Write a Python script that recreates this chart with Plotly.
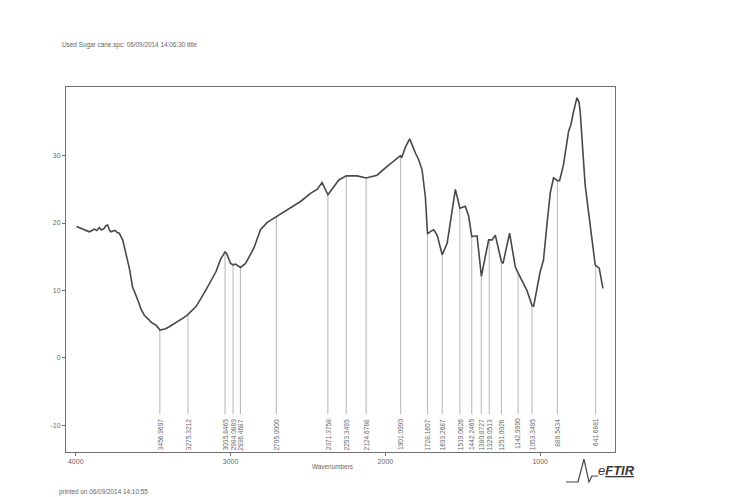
import numpy as np
import plotly.graph_objects as go

# ---- spectrum (wavenumber cm-1, %T-like units) ----
wavenumber = [3995, 3975, 3960, 3940, 3913, 3895, 3880, 3865, 3848, 3835, 3820, 3806, 3794, 3783,
              3772, 3758, 3745, 3732, 3719, 3697, 3675, 3654, 3633, 3615, 3600, 3578, 3557, 3530,
              3514, 3495, 3480, 3456, 3439, 3420, 3396, 3360, 3331, 3300, 3277, 3223, 3158, 3094,
              3065, 3036, 3026, 3000, 2984, 2968, 2936, 2903, 2849, 2807, 2763, 2721, 2634, 2548,
              2484, 2441, 2409, 2394, 2371, 2333, 2301, 2253, 2183, 2124, 2054, 1989, 1925, 1903,
              1895, 1870, 1843, 1820, 1806, 1785, 1763, 1742, 1728, 1705, 1688, 1666, 1633, 1601,
              1548, 1519, 1484, 1462, 1442, 1408, 1380, 1355, 1333, 1311, 1290, 1251, 1240, 1198,
              1161, 1143, 1110, 1086, 1053, 1043, 1000, 979, 957, 935, 914, 889, 875, 850, 817,
              802, 785, 763, 750, 742, 710, 677, 645, 630, 619, 595]
transmittance = [19.5, 19.3, 19.2, 18.9, 18.7, 18.9, 19.1, 18.9, 19.3, 19.0, 19.1, 19.6, 19.7, 19.0,
                 18.7, 18.8, 18.9, 18.6, 18.5, 17.5, 15.5, 13.3, 10.5, 9.3, 8.6, 7.2, 6.3, 5.7,
                 5.3, 5.0, 4.8, 4.1, 4.2, 4.3, 4.6, 5.1, 5.6, 6.0, 6.4, 7.6, 10.1, 12.8,
                 14.6, 15.7, 15.5, 14.0, 13.8, 13.9, 13.4, 14.0, 16.3, 19.0, 20.1, 20.7, 21.9, 23.2,
                 24.4, 25.0, 26.0, 25.3, 24.2, 25.4, 26.4, 27.0, 27.0, 26.7, 27.1, 28.4, 29.5, 30.0,
                 29.7, 31.3, 32.5, 31.0, 30.4, 29.4, 27.9, 23.9, 18.4, 18.8, 19.0, 18.2, 15.3, 17.0,
                 25.0, 22.2, 22.5, 21.0, 18.0, 18.1, 12.1, 15.0, 17.5, 17.5, 18.2, 14.3, 14.0, 18.5,
                 13.5, 12.6, 11.2, 10.0, 7.8, 7.6, 12.8, 14.5, 19.7, 24.5, 26.7, 26.3, 26.3, 28.6, 33.6,
                 34.6, 36.5, 38.6, 38.0, 36.6, 25.7, 19.2, 13.8, 13.5, 13.3, 10.3]

peak_labels = ["3456.9697", "3275.3212", "3035.8465", "2984.0889", "2936.4687", "2705.0000",
               "2371.3758", "2253.3495", "2124.6788", "1901.0990", "1728.1607", "1633.2687",
               "1519.0626", "1442.2465", "1380.8727", "1329.0513", "1251.0026", "1142.9990",
               "1053.3495", "889.5434", "641.6881"]

x_ticks = [4000, 3000, 2000, 1000]
y_ticks = [-10, 0, 10, 20, 30]

title_text = "Used Sugar cane.spc: 06/09/2014 14:06:30 title"
printed_text = "printed on 06/09/2014 14:10:55"
x_title = "Wavenumbers"

FONT = "Liberation Sans, Arial, sans-serif"
TXT = "#666666"

fig = go.Figure()

# peak marker lines (from the curve down to the labels)
peak_pos = [float(s) for s in peak_labels]
wn_sorted = np.array(wavenumber[::-1], dtype=float)
tr_sorted = np.array(transmittance[::-1], dtype=float)
line_bottom = -8.4
lx, ly = [], []
for p in peak_pos:
    top = float(np.interp(p, wn_sorted, tr_sorted))
    lx += [p, p, None]
    ly += [top, line_bottom, None]
fig.add_trace(go.Scatter(x=lx, y=ly, mode="lines",
                         line=dict(color="#a0a0b0", width=0.8),
                         hoverinfo="skip", showlegend=False))

# spectrum
fig.add_trace(go.Scatter(x=wavenumber, y=transmittance, mode="lines",
                         line=dict(color="#484848", width=1.6),
                         showlegend=False))

annotations = []
for s, p in zip(peak_labels, peak_pos):
    annotations.append(dict(x=p, y=line_bottom - 0.3, xref="x", yref="y", text=s,
                            textangle=-90, showarrow=False, yanchor="top", xanchor="center",
                            font=dict(family=FONT, size=6.6, color=TXT)))

annotations += [
    dict(x=-0.011, y=1.115, xref="paper", yref="paper", text=title_text, showarrow=False,
         xanchor="left", yanchor="middle", font=dict(family=FONT, size=6.4, color=TXT)),
    dict(x=-0.016, y=-0.11, xref="paper", yref="paper", text=printed_text, showarrow=False,
         xanchor="left", yanchor="middle", font=dict(family=FONT, size=6.4, color=TXT)),
    dict(x=0.486, y=-0.04, xref="paper", yref="paper", text=x_title, showarrow=False,
         xanchor="center", yanchor="middle", font=dict(family=FONT, size=6.4, color=TXT)),
    dict(x=(596 - 66) / 549, y=(452 - 470) / 365, xref="paper", yref="paper",
         text="<i>e</i><b><i><u>FTIR</u></i></b>", showarrow=False,
         xanchor="left", yanchor="middle", font=dict(family=FONT, size=13, color="#3a3a3a")),
]

def px(xp, yp):
    return (xp - 66) / 549, (452 - yp) / 365

logo_pts = [(566, 482), (578, 482), (584, 459), (589, 482), (592, 476), (598, 476)]
path = "M " + " L ".join(f"{px(a, b)[0]:.4f},{px(a, b)[1]:.4f}" for a, b in logo_pts)
shapes = [dict(type="path", path=path, xref="paper", yref="paper",
               line=dict(color="#444", width=1.2))]

fig.update_layout(
    width=731, height=497,
    margin=dict(l=66, r=116, t=87, b=45),
    paper_bgcolor="white", plot_bgcolor="white",
    annotations=annotations, shapes=shapes,
    xaxis=dict(range=[4063, 517], tickvals=x_ticks, ticktext=[str(v) for v in x_ticks],
               showgrid=False, zeroline=False, showline=True, linecolor="#707070", linewidth=1,
               mirror=True, ticks="outside", ticklen=3, tickcolor="#707070",
               tickfont=dict(family=FONT, size=7, color=TXT)),
    yaxis=dict(range=[-14, 40.2], tickvals=y_ticks, ticktext=[str(v) for v in y_ticks],
               showgrid=False, zeroline=False, showline=True, linecolor="#707070", linewidth=1,
               mirror=True, ticks="outside", ticklen=3, tickcolor="#707070",
               tickfont=dict(family=FONT, size=7, color=TXT)),
)

fig.write_html("out.html")
